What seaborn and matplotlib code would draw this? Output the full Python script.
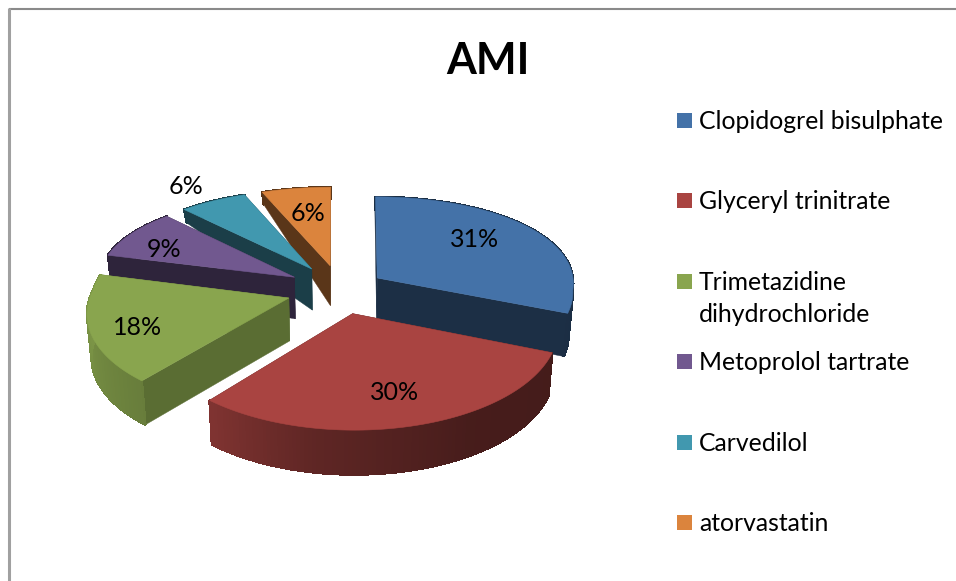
import numpy as np
import matplotlib
matplotlib.use("Agg")
import matplotlib.pyplot as plt
from matplotlib.patches import Polygon, Rectangle
import seaborn as sns

# Chart content
title = "AMI"
drugs = ["Clopidogrel bisulphate", "Glyceryl trinitrate",
         "Trimetazidine\ndihydrochloride", "Metoprolol tartrate",
         "Carvedilol", "atorvastatin"]
shares = [31, 30, 18, 9, 6, 6]
share_labels = ["31%", "30%", "18%", "9%", "6%", "6%"]

# Slice appearance
top_colors = ["#4472A8", "#A94441", "#89A54E", "#71588F", "#4198AF", "#DB843D"]
explode = [0.23, 0.25, 0.27, 0.27, 0.27, 0.27]
wall_shade = [0.41, 0.41, 0.66, 0.41, 0.41, 0.41]
label_radius = [0.68, 0.73, 0.78, 0.75, 1.25, 0.65]
label_turn = [-7, 0, -4, -6, -1, 0]
draw_order = [5, 4, 3, 2, 0, 1]

sns.set_theme(style="white")
plt.rcParams["font.family"] = ["Lato", "DejaVu Sans"]
palette = sns.color_palette(top_colors)

fig = plt.figure(figsize=(9.56, 5.81), dpi=100, facecolor="white")
ax = fig.add_axes([0, 0, 1, 1])
ax.set_xlim(0, 956)
ax.set_ylim(581, 0)
ax.axis("off")

# Perspective projection of the pie plane onto the canvas
CX, CY, RX, RY, K = 340.0, 290.0, 197.0, 94.6, 0.13


def project(u, v):
    u, v = np.asarray(u, float), np.asarray(v, float)
    kx = np.where(v < 0, K, 0.05)
    return CX + RX * u / (1 + kx * v), CY - RY * v / (1 + K * v)


def lower(x, y):
    """Map a point on the top face to the matching point on the bottom face."""
    depth = np.interp(y, [190, 215, 268, 300, 480], [12, 14, 41, 43, 45])
    return CX + (x - CX) * 0.982, y + depth


def shade(rgb, f):
    return tuple(np.clip(np.array(rgb) * f, 0, 1))


def rim_factor(i, theta_deg):
    # Only the two front slices pick up the lit gradient on their outer rim
    if i >= 3:
        return wall_shade[i]
    return np.interp(theta_deg, [100, 150, 190, 220, 270, 360],
                     [0.40, 0.42, 0.56, 0.76, 0.90, 0.90])


edges = np.cumsum([0] + shares) / sum(shares) * 360.0

for i in draw_order:
    rgb = palette[i]
    t0, t1 = edges[i], edges[i + 1]
    mid = np.radians((t0 + t1) / 2)
    ox, oy = explode[i] * np.sin(mid), explode[i] * np.cos(mid)

    thetas = np.linspace(t0, t1, int(t1 - t0) + 2)
    rad = np.radians(thetas)
    ax_, ay_ = project(ox, oy)
    rx_, ry_ = project(ox + np.sin(rad), oy + np.cos(rad))
    ax_, ay_ = float(ax_), float(ay_)

    # Straight cut faces sit underneath the outer rim
    for b in [(rx_[0], ry_[0]), (rx_[-1], ry_[-1])]:
        a = (ax_, ay_)
        col = shade(rgb, wall_shade[i])
        ax.add_patch(Polygon([a, b, lower(*b), lower(*a)], closed=True,
                             facecolor=col, edgecolor=col, lw=0.3))

    # Outer rim, with each strip overlapping the next to hide seams
    for j in range(len(thetas) - 1):
        a, b = (rx_[j], ry_[j]), (rx_[j + 1], ry_[j + 1])
        la, lb = lower(*a), lower(*b)
        col = shade(rgb, rim_factor(i, (thetas[j] + thetas[j + 1]) / 2))
        ax.add_patch(Polygon([a, b, lb, la], closed=True, facecolor=col,
                             edgecolor=col, lw=1.0, antialiased=False))

    top = np.column_stack([np.r_[ax_, rx_], np.r_[ay_, ry_]])
    ax.add_patch(Polygon(top, closed=True, facecolor=rgb, edgecolor=rgb, lw=0.4))

# Percentage labels
for i, text in enumerate(share_labels):
    mid = np.radians((edges[i] + edges[i + 1]) / 2)
    turn = np.radians(label_turn[i])
    ox, oy = explode[i] * np.sin(mid), explode[i] * np.cos(mid)
    r = label_radius[i]
    lx, ly = project(ox + r * np.sin(mid + turn), oy + r * np.cos(mid + turn))
    ax.text(float(lx), float(ly), text, ha="center", va="center",
            fontsize=18, color="black", zorder=10)

# Title
ax.text(488, 61, title, ha="center", va="center", fontsize=31,
        fontweight="bold", color="black")

# Legend column
LEG_X, LEG_TOP, LEG_STEP, LINE_H = 677, 120.5, 80.4, 32
for i, name in enumerate(drugs):
    yc = LEG_TOP + i * LEG_STEP
    ax.add_patch(Rectangle((LEG_X, yc - 7.5), 15, 15, facecolor=palette[i], edgecolor="none"))
    for k, line in enumerate(name.split("\n")):
        ax.text(699, yc + 1 + k * LINE_H, line, ha="left", va="center",
                fontsize=17.8, color="black")

# Chart border along the top and left
ax.plot([9, 956], [9, 9], color="#8A8A8A", lw=1.5, solid_capstyle="butt")
ax.plot([9, 9], [8, 581], color="#A0A0A0", lw=2.2, solid_capstyle="butt")

fig.savefig("out.png", dpi=100, facecolor="white")
